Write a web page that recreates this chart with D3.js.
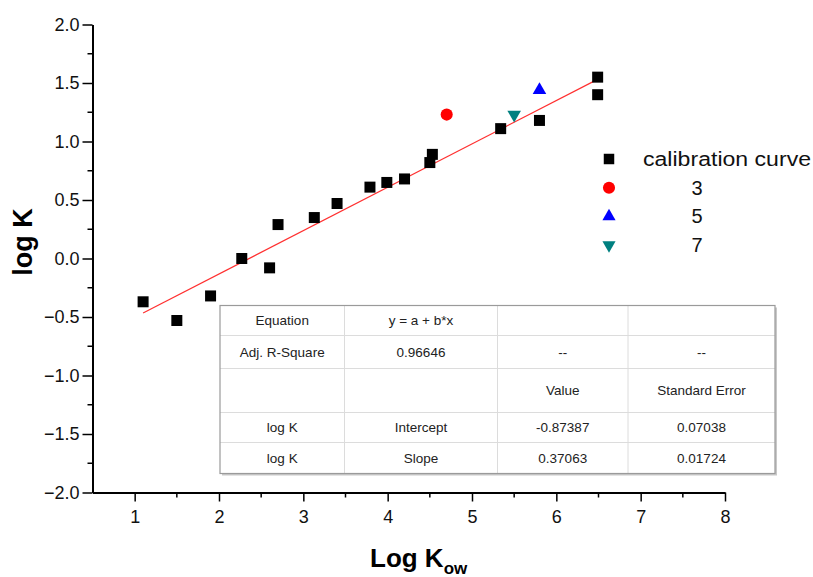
<!DOCTYPE html>
<html>
<head>
<meta charset="utf-8">
<script src="https://cdn.jsdelivr.net/npm/d3@7"></script>
<style>
  body { margin: 0; background: #fff; }
  svg { font-family: "Liberation Sans", Arial, sans-serif; }
</style>
</head>
<body>
<div id="chart"></div>
<script>
// calibration points (log Kow, log K)
const calX = [1.1, 1.5, 1.9, 2.27, 2.6, 2.7, 3.13, 3.4, 3.79, 3.99, 4.2, 4.5, 4.53, 5.34, 5.8, 6.49, 6.49];
const calY = [-0.37, -0.53, -0.32, 0.0, -0.08, 0.29, 0.35, 0.47, 0.61, 0.65, 0.68, 0.82, 0.89, 1.11, 1.18, 1.55, 1.40];

// other samples
const sampleNames = ['3', '5', '7'];
const sampleX = [4.7, 5.8, 5.5];
const sampleY = [1.23, 1.44, 1.23];
const sampleColors = ['#ff0000', '#0000ff', '#008080'];

// linear fit
const intercept = -0.87387;
const slope = 0.37063;
const fitRange = [1.1, 6.5];

const xTicks = [1, 2, 3, 4, 5, 6, 7, 8];
const yTicks = [-2.0, -1.5, -1.0, -0.5, 0.0, 0.5, 1.0, 1.5, 2.0];

// fit statistics table
const tableRows = [
  ['Equation', 'y = a + b*x', '', ''],
  ['Adj. R-Square', '0.96646', '--', '--'],
  ['', '', 'Value', 'Standard Error'],
  ['log K', 'Intercept', '-0.87387', '0.07038'],
  ['log K', 'Slope', '0.37063', '0.01724']
];

const W = 813, H = 577;
const svg = d3.select('#chart').append('svg')
    .attr('width', W)
    .attr('height', H);

const x = d3.scaleLinear().domain([0.5, 8]).range([92.5, 725]);
const y = d3.scaleLinear().domain([-2, 2]).range([492.5, 24.5]);

// axes
const xAxis = d3.axisBottom(x).tickValues(xTicks).tickFormat(d3.format('d')).tickSize(9).tickSizeOuter(0);
const yAxis = d3.axisLeft(y).tickValues(yTicks).tickFormat(d3.format('.1f')).tickSize(10).tickSizeOuter(0);

const gx = svg.append('g').attr('transform', `translate(0,${y(-2)})`).call(xAxis);
const gy = svg.append('g').attr('transform', `translate(${x(0.5)},0)`).call(yAxis);

// minor ticks
const xMinor = d3.range(1.5, 8, 1);
const yMinor = d3.range(-1.75, 2, 0.5);
gx.selectAll('.minor').data(xMinor).enter().append('line')
    .attr('x1', d => x(d)).attr('x2', d => x(d))
    .attr('y1', 0).attr('y2', 5)
    .attr('stroke', '#000').attr('stroke-width', 1.5);
gy.selectAll('.minor').data(yMinor).enter().append('line')
    .attr('y1', d => y(d)).attr('y2', d => y(d))
    .attr('x1', 0).attr('x2', -5)
    .attr('stroke', '#000').attr('stroke-width', 1.5);

[gx, gy].forEach(g => {
  g.select('.domain').attr('stroke', '#000').attr('stroke-width', 2);
  g.selectAll('.tick line').attr('stroke', '#000').attr('stroke-width', 1.5);
  g.selectAll('.tick text')
      .attr('font-family', '"Liberation Sans", Arial, sans-serif')
      .attr('font-size', 18)
      .attr('fill', '#111');
});
gx.selectAll('.tick text').attr('dy', '1.0em');
gy.selectAll('.tick text').attr('x', -13);

// axis titles
svg.append('text')
    .attr('transform', 'translate(32,242) rotate(-90)')
    .attr('text-anchor', 'middle')
    .attr('font-size', 27)
    .attr('font-weight', 'bold')
    .text('log K');

const xt = svg.append('text')
    .attr('x', 370)
    .attr('y', 567)
    .attr('font-size', 26)
    .attr('font-weight', 'bold');
xt.append('tspan').text('Log K');
xt.append('tspan').attr('font-size', 17).attr('dy', 7).text('ow');

// fit line
svg.append('line')
    .attr('x1', x(fitRange[0])).attr('y1', y(intercept + slope * fitRange[0]))
    .attr('x2', x(fitRange[1])).attr('y2', y(intercept + slope * fitRange[1]))
    .attr('stroke', '#ff3030')
    .attr('stroke-width', 1.2);

// calibration squares
const sq = d3.symbol().type(d3.symbolSquare).size(121);
svg.append('g').selectAll('path')
    .data(calX.map((d, i) => [d, calY[i]]))
    .enter().append('path')
    .attr('d', sq)
    .attr('transform', d => `translate(${x(d[0])},${y(d[1])})`)
    .attr('fill', '#000');

// sample markers
const shapes = [
  { type: d3.symbolCircle, size: 115, rot: 0 },
  { type: d3.symbolTriangle, size: 80, rot: 0 },
  { type: d3.symbolTriangle, size: 80, rot: 180 }
];
svg.append('g').selectAll('path')
    .data(sampleNames)
    .enter().append('path')
    .attr('d', (d, i) => d3.symbol().type(shapes[i].type).size(shapes[i].size)())
    .attr('transform', (d, i) => `translate(${x(sampleX[i])},${y(sampleY[i])}) rotate(${shapes[i].rot})`)
    .attr('fill', (d, i) => sampleColors[i]);

// legend
const legendItems = [
  { label: 'calibration curve', shape: d3.symbolSquare, size: 110, rot: 0, color: '#000', tx: 643, anchor: 'start', len: 168 },
  { label: sampleNames[0], shape: d3.symbolCircle, size: 115, rot: 0, color: sampleColors[0], tx: 697, anchor: 'middle' },
  { label: sampleNames[1], shape: d3.symbolTriangle, size: 75, rot: 0, color: sampleColors[1], tx: 697, anchor: 'middle' },
  { label: sampleNames[2], shape: d3.symbolTriangle, size: 75, rot: 180, color: sampleColors[2], tx: 697, anchor: 'middle' }
];
const leg = svg.append('g').selectAll('g')
    .data(legendItems)
    .enter().append('g')
    .attr('transform', (d, i) => `translate(0,${159 + i * 28.7})`);
leg.append('path')
    .attr('d', d => d3.symbol().type(d.shape).size(d.size)())
    .attr('transform', d => `translate(609,0) rotate(${d.rot})`)
    .attr('fill', d => d.color);
leg.append('text')
    .attr('x', d => d.tx)
    .attr('y', 0)
    .attr('dy', '0.35em')
    .attr('text-anchor', d => d.anchor)
    .attr('font-size', 20)
    .attr('fill', '#111')
    .each(function (d) {
      if (d.len) d3.select(this).attr('textLength', d.len).attr('lengthAdjust', 'spacingAndGlyphs');
    })
    .text(d => d.label);

// statistics table
const colEdges = [220, 344.5, 497.5, 628, 775];
const rowEdges = [305.5, 335.5, 368.5, 412.5, 442.5, 473.5];
const tbl = svg.append('g');
tbl.append('rect')
    .attr('x', colEdges[0] + 2).attr('y', rowEdges[0] + 2)
    .attr('width', colEdges[4] - colEdges[0]).attr('height', rowEdges[5] - rowEdges[0])
    .attr('fill', '#c8c8c8');
tbl.append('rect')
    .attr('x', colEdges[0]).attr('y', rowEdges[0])
    .attr('width', colEdges[4] - colEdges[0]).attr('height', rowEdges[5] - rowEdges[0])
    .attr('fill', '#fff');
tbl.selectAll('.hl').data(rowEdges.slice(1, -1)).enter().append('line')
    .attr('x1', colEdges[0]).attr('x2', colEdges[4])
    .attr('y1', d => d).attr('y2', d => d)
    .attr('stroke', '#dcdcdc').attr('stroke-width', 1);
tbl.selectAll('.vl').data(colEdges.slice(1, -1)).enter().append('line')
    .attr('y1', rowEdges[0]).attr('y2', rowEdges[5])
    .attr('x1', d => d).attr('x2', d => d)
    .attr('stroke', '#dcdcdc').attr('stroke-width', 1);
tbl.append('rect')
    .attr('x', colEdges[0]).attr('y', rowEdges[0])
    .attr('width', colEdges[4] - colEdges[0]).attr('height', rowEdges[5] - rowEdges[0])
    .attr('fill', 'none').attr('stroke', '#9a9a9a').attr('stroke-width', 1.2);

tableRows.forEach((row, r) => {
  row.forEach((cell, c) => {
    if (!cell) return;
    tbl.append('text')
        .attr('x', (colEdges[c] + colEdges[c + 1]) / 2)
        .attr('y', (rowEdges[r] + rowEdges[r + 1]) / 2)
        .attr('dy', '0.35em')
        .attr('text-anchor', 'middle')
        .attr('font-size', 13.5)
        .attr('fill', '#222')
        .text(cell);
  });
});
</script>
</body>
</html>
